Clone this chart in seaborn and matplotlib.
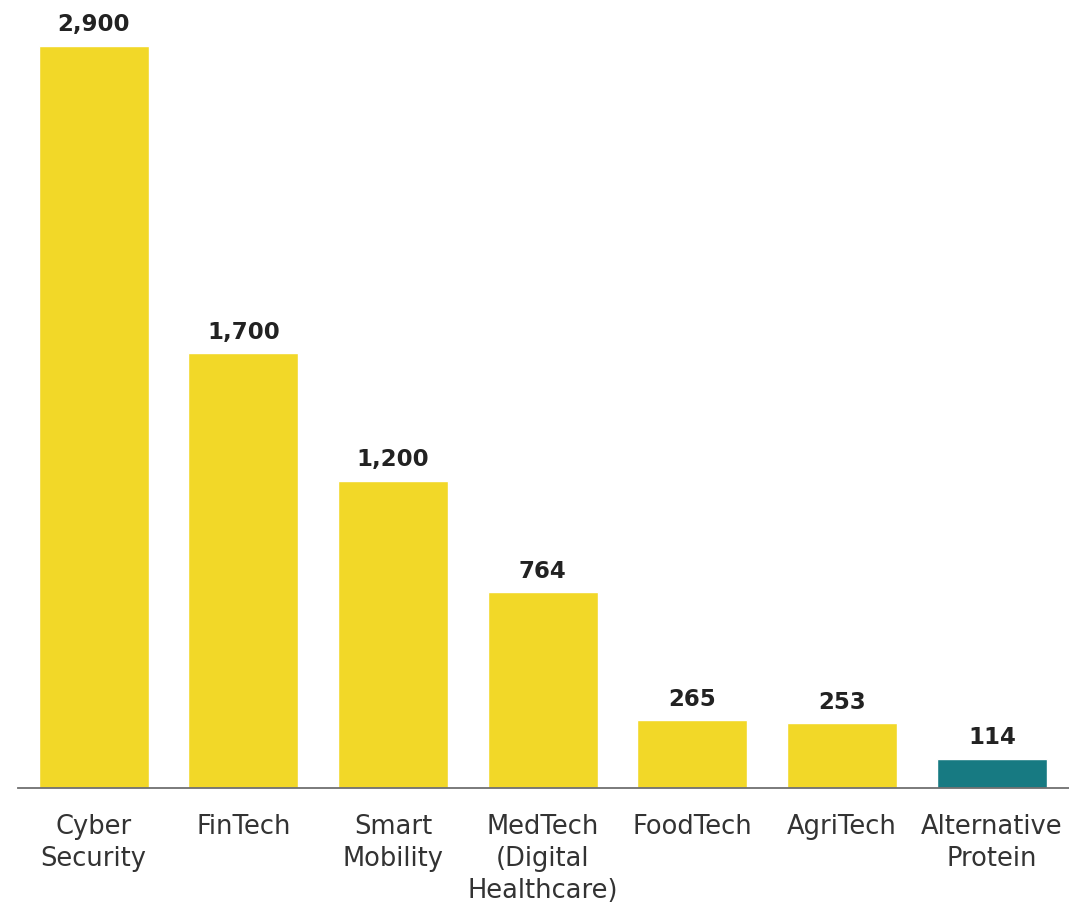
import matplotlib
matplotlib.use("Agg")
import matplotlib.pyplot as plt
import seaborn as sns

categories = ["Cyber\nSecurity", "FinTech", "Smart\nMobility", "MedTech\n(Digital\nHealthcare)",
              "FoodTech", "AgriTech", "Alternative\nProtein"]
values = [2900, 1700, 1200, 764, 265, 253, 114]
value_labels = ["2,900", "1,700", "1,200", "764", "265", "253", "114"]
bar_colors = ["#F2D828", "#F2D828", "#F2D828", "#F2D828", "#F2D828", "#F2D828", "#177A82"]

sns.set_theme(style="white")
plt.rcParams["font.family"] = ["DejaVu Sans"]

fig = plt.figure(figsize=(10.69, 9.03), dpi=100)
ax = fig.add_axes([18 / 1069, 114 / 903, 1 - 18 / 1069, 789 / 903])

sns.barplot(x=categories, y=values, hue=categories, palette=bar_colors,
            legend=False, width=0.735, saturation=1, ax=ax)

for i, (v, lab) in enumerate(zip(values, value_labels)):
    ax.annotate(lab, (i, v), xytext=(0, 7.5), textcoords="offset points",
                ha="center", va="bottom", fontsize=16.5, fontweight="bold",
                color="#222222")

ax.set_xlim(-0.505, 6.515)
ax.set_ylim(0, 3083)
ax.set_yticks([])
ax.set_xlabel("")
ax.set_ylabel("")
for s in ["top", "right", "left"]:
    ax.spines[s].set_visible(False)
ax.spines["bottom"].set_color("#6f6f6f")
ax.spines["bottom"].set_linewidth(1.3)
ax.tick_params(axis="x", length=0, pad=18, labelsize=18.5, labelcolor="#333333")
for t in ax.get_xticklabels():
    t.set_linespacing(1.3)

fig.savefig("out.png", dpi=100, facecolor="white")
